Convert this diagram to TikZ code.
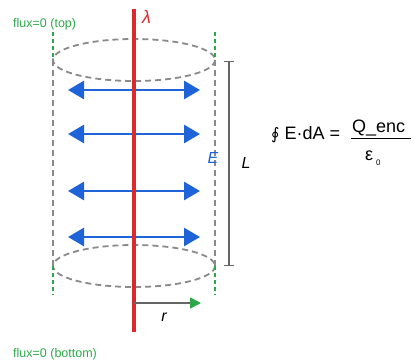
\documentclass[tikz,border=0pt]{standalone}
\usepackage{fontspec}
\setmainfont{Liberation Sans}
\newfontfamily\dejavu{DejaVu Sans}
\usetikzlibrary{arrows.meta}
\definecolor{lred}{HTML}{D92B2B}
\definecolor{fblue}{HTML}{1F63D9}
\definecolor{fgreen}{HTML}{2CA84A}
\definecolor{sgray}{HTML}{8A8A8A}
\definecolor{dgray}{HTML}{666666}
\begin{document}
\begin{tikzpicture}[x=1pt,y=-1pt,
  surf/.style={draw=sgray,line width=1.8pt,dash pattern=on 6pt off 4pt},
  fluxline/.style={draw=fgreen,line width=1.8pt,dash pattern=on 4pt off 3pt},
  field/.style={draw=fblue,line width=2.8pt,{Triangle[length=16pt,width=18pt]}-{Triangle[length=16pt,width=18pt]}},
  lbl/.style={inner sep=0pt,font=\fontsize{16}{18}\selectfont\itshape},
  fluxlbl/.style={inner sep=0pt,anchor=base west,text=fgreen,font=\fontsize{12.5}{14}\selectfont},
  eq/.style={inner sep=0pt,anchor=base west,font=\fontsize{18}{20}\selectfont}]
\useasboundingbox (0,0) rectangle (414,362);
% coordinates
\coordinate (wt) at (134,9);
\coordinate (wb) at (134,332);
\coordinate (tl) at (53,60);
\coordinate (tr) at (215,60);
\coordinate (bl) at (53,266);
\coordinate (br) at (215,266);
\coordinate (gtl) at (53,32);
\coordinate (gtr) at (215,32);
\coordinate (gbl) at (53,295);
\coordinate (gbr) at (215,295);
\coordinate (ct) at (134,60);
\coordinate (cb) at (134,266);
% gaussian surface
\draw[surf] (ct) ellipse [x radius=81, y radius=21];
\draw[surf] (cb) ellipse [x radius=81, y radius=21];
\draw[surf] (tl) -- (bl);
\draw[surf] (tr) -- (br);
\draw[fluxline] (gtl) -- (tl);
\draw[fluxline] (gtr) -- (tr);
\draw[fluxline] (bl) -- (gbl);
\draw[fluxline] (br) -- (gbr);
% field arrows
\foreach \y/\n in {90/a,134/b,191/c,237/d}{
  \coordinate (\n l) at (68,\y);
  \coordinate (\n r) at (200,\y);
  \draw[field] (\n l) -- (\n r);
}
% line charge
\draw[draw=lred,line width=3.6pt] (wt) -- (wb);
\node[lbl,text=lred,anchor=west,font=\fontsize{18}{20}\selectfont\itshape] (lam) at (142,17) {λ};
% r arrow
\coordinate (r0) at (134,303);
\coordinate (r1) at (201,303);
\draw[draw=dgray,line width=1.6pt,-{Triangle[length=11pt,width=11pt,color=fgreen]}] (r0) -- (r1);
\node[lbl] (rlab) at (164,317) {r};
% length marker
\coordinate (lt) at (229,61);
\coordinate (lb) at (229,266);
\draw[draw=dgray,line width=1.4pt,{Bar[width=10pt]}-{Bar[width=10pt]}] (lt) -- (lb);
\node[lbl] (Llab) at (246,163) {L};
\node[lbl,text=fblue] (Elab) at (213,158) {E};
% flux labels
\node[fluxlbl] (ftop) at (13,27) {flux=0 (top)};
\node[fluxlbl] (fbot) at (13,357) {flux=0 (bottom)};
% equation
\node[eq] (lhs) at (271,139) {{\dejavu\fontsize{16}{18}\selectfont ∮} E·dA =};
\node[eq] (num) at (352,132) {Q\_enc};
\coordinate (f0) at (351,138);
\coordinate (f1) at (411,138);
\draw[line width=1pt] (f0) -- (f1);
\node[eq] (den) at (365,160) {ε};
\node[inner sep=0pt,anchor=base west,font=\fontsize{8}{9}\selectfont] (sub) at (376,165) {0};
\end{tikzpicture}
\end{document}
